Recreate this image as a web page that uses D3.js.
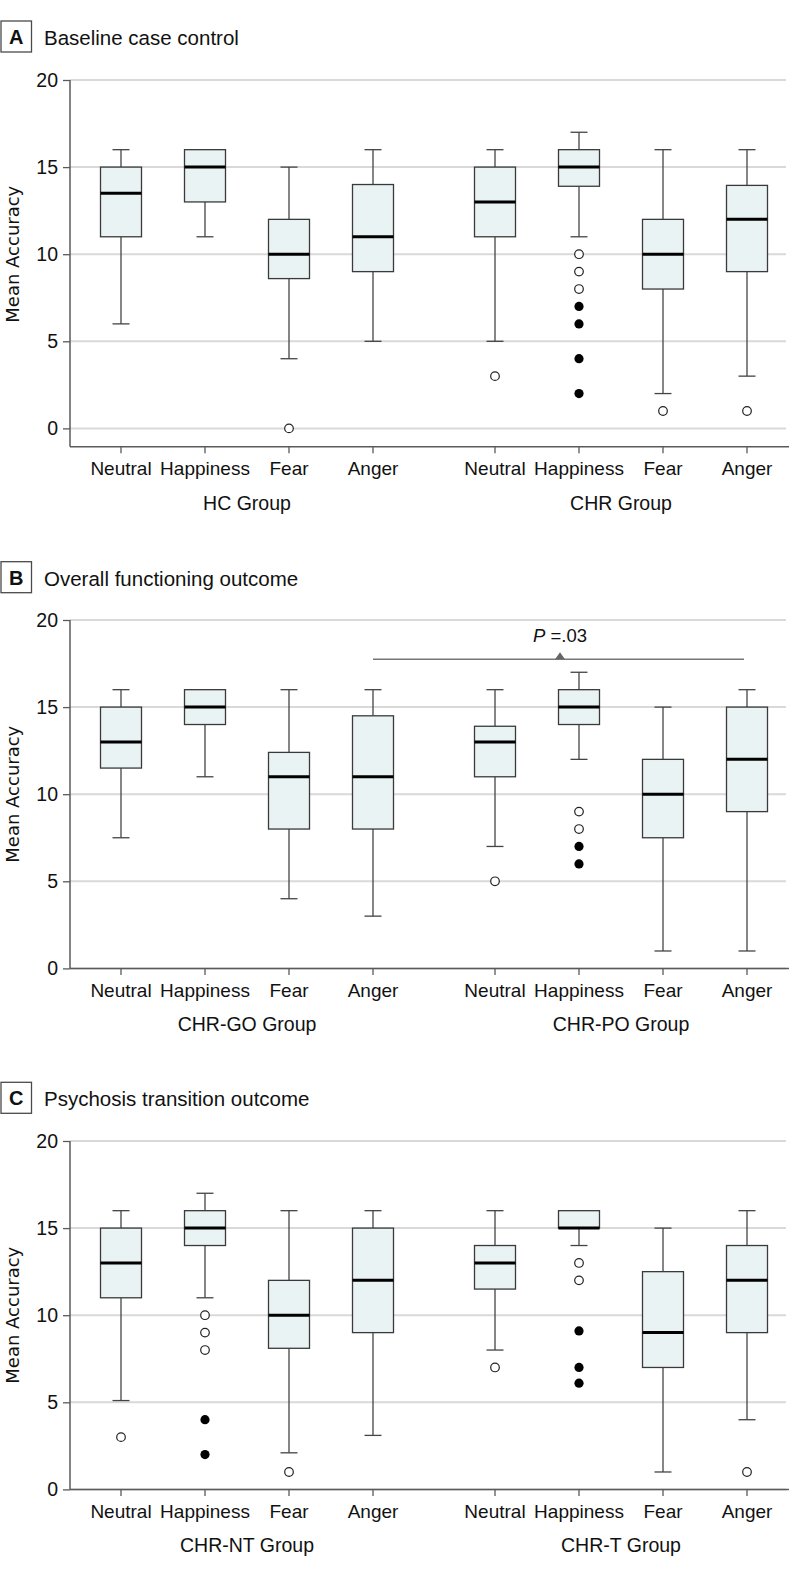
<!DOCTYPE html>
<html>
<head>
<meta charset="utf-8">
<script src="https://cdn.jsdelivr.net/npm/d3@7"></script>
<style>
  html, body { margin: 0; padding: 0; background: #fff; }
  svg { display: block; }
</style>
</head>
<body>
<svg id="chart" width="794" height="1574"></svg>
<script>
// ---------------- DATA ----------------
const emotions = ["Neutral", "Happiness", "Fear", "Anger"];

// Panel A: Baseline case control
const groupsA = ["HC Group", "CHR Group"];
const lowA    = [6, 11, 4, 5,   5, 11, 2, 3];
const q1A     = [11, 13, 8.6, 9,   11, 13.9, 8, 9];
const medA    = [13.5, 15, 10, 11,   13, 15, 10, 12];
const q3A     = [15, 16, 12, 14,   15, 16, 12, 13.95];
const highA   = [16, 16, 15, 16,   16, 17, 16, 16];
const openA   = [[], [], [0], [],   [3], [10, 9, 8], [1], [1]];
const filledA = [[], [], [], [],   [], [7, 6, 4, 2], [], []];

// Panel B: Overall functioning outcome
const groupsB = ["CHR-GO Group", "CHR-PO Group"];
const lowB    = [7.5, 11, 4, 3,   7, 12, 1, 1];
const q1B     = [11.5, 14, 8, 8,   11, 14, 7.5, 9];
const medB    = [13, 15, 11, 11,   13, 15, 10, 12];
const q3B     = [15, 16, 12.4, 14.5,   13.9, 16, 12, 15];
const highB   = [16, 16, 16, 16,   16, 17, 15, 16];
const openB   = [[], [], [], [],   [5], [9, 8], [], []];
const filledB = [[], [], [], [],   [], [7, 6], [], []];
const pLabelB = "=.03";
const pLevelB = 17.75;

// Panel C: Psychosis transition outcome
const groupsC = ["CHR-NT Group", "CHR-T Group"];
const lowC    = [5.1, 11, 2.1, 3.1,   8, 14, 1, 4];
const q1C     = [11, 14, 8.1, 9,   11.5, 15, 7, 9];
const medC    = [13, 15, 10, 12,   13, 15, 9, 12];
const q3C     = [15, 16, 12, 15,   14, 16, 12.5, 14];
const highC   = [16, 17, 16, 16,   16, 16, 15, 16];
const openC   = [[3], [10, 9, 8], [1], [],   [7], [13, 12], [], [1]];
const filledC = [[], [4, 2], [], [],   [], [9.1, 7, 6.1], [], []];

const yTicks = [0, 5, 10, 15, 20];
const titles = ["Baseline case control", "Overall functioning outcome", "Psychosis transition outcome"];
const letters = ["A", "B", "C"];

// ---------------- LAYOUT ----------------
const svg = d3.select("#chart");
const plotLeft = 70, plotRight = 786;
const unit = 17.42;
const labelFont = "'Liberation Sans', Arial, sans-serif";

const panels = [
  { top: 21,    y20: 80,   yMin: -1.06, groups: groupsA, low: lowA, q1: q1A, med: medA, q3: q3A, high: highA, open: openA, filled: filledA },
  { top: 561.7, y20: 620,  yMin: 0,     groups: groupsB, low: lowB, q1: q1B, med: medB, q3: q3B, high: highB, open: openB, filled: filledB, pLabel: pLabelB, pLevel: pLevelB },
  { top: 1082.3,y20: 1141, yMin: 0,     groups: groupsC, low: lowC, q1: q1C, med: medC, q3: q3C, high: highC, open: openC, filled: filledC }
];

const boxW = 41, capW = 17;

panels.forEach((p, pi) => {
  const g = svg.append("g");
  const y = d3.scaleLinear().domain([p.yMin, 20]).range([p.y20 + (20 - p.yMin) * unit, p.y20]);
  const axisY = y(p.yMin);

  const xGroup = d3.scaleBand().domain(p.groups).range([79, 789]).paddingInner(0.1016).paddingOuter(0);
  const xInner = d3.scalePoint().domain(emotions).range([0, xGroup.bandwidth()]).padding(0.5);
  const items = [];
  p.groups.forEach((grp, gi) => {
    emotions.forEach((em, ei) => {
      const k = gi * 4 + ei;
      items.push({ cx: xGroup(grp) + xInner(em), em, grp,
        low: p.low[k], q1: p.q1[k], med: p.med[k], q3: p.q3[k], high: p.high[k],
        open: p.open[k], filled: p.filled[k] });
    });
  });

  // Title
  g.append("rect").attr("x", 1).attr("y", p.top).attr("width", 30.5).attr("height", 31)
    .attr("fill", "#fff").attr("stroke", "#4a4a4a").attr("stroke-width", 1.3);
  g.append("text").attr("x", 16.3).attr("y", p.top + 23).attr("text-anchor", "middle")
    .attr("font-family", labelFont).attr("font-weight", "bold").attr("font-size", 20)
    .attr("fill", "#111").text(letters[pi]);
  g.append("text").attr("x", 44).attr("y", p.top + 24)
    .attr("font-family", labelFont).attr("font-size", 20.5).attr("fill", "#111").text(titles[pi]);

  // Grid lines
  g.selectAll(".grid").data(yTicks).join("line")
    .attr("x1", plotLeft).attr("x2", plotRight)
    .attr("y1", d => y(d)).attr("y2", d => y(d))
    .attr("stroke", "#d9d9d9").attr("stroke-width", 2);

  // Y axis
  const yAxis = d3.axisLeft(y).tickValues(yTicks).tickSize(7).tickPadding(5).tickFormat(d3.format("d"));
  const ya = g.append("g").attr("transform", `translate(${plotLeft},0)`).call(yAxis);
  ya.select(".domain").attr("d", `M0,${y(20)}V${axisY}`).attr("stroke", "#5a5a5a").attr("stroke-width", 1.5);
  ya.selectAll(".tick line").attr("stroke", "#5a5a5a").attr("stroke-width", 1.3);
  ya.selectAll(".tick text").attr("font-family", labelFont).attr("font-size", 19.5).attr("fill", "#111");

  // X axis line
  g.append("line").attr("x1", plotLeft).attr("x2", 789).attr("y1", axisY).attr("y2", axisY)
    .attr("stroke", "#5a5a5a").attr("stroke-width", 1.5);
  // X ticks and labels
  const xt = g.selectAll(".xt").data(items).join("g").attr("transform", d => `translate(${d.cx},${axisY})`);
  xt.append("line").attr("y1", 0).attr("y2", 6.5).attr("stroke", "#5a5a5a").attr("stroke-width", 1.3);
  xt.append("text").attr("y", 28.5).attr("text-anchor", "middle")
    .attr("font-family", labelFont).attr("font-size", 19).attr("fill", "#111").text(d => d.em);
  // Group labels
  g.selectAll(".gl").data(p.groups).join("text")
    .attr("x", d => xGroup(d) + xGroup.bandwidth() / 2).attr("y", axisY + 63)
    .attr("text-anchor", "middle").attr("font-family", labelFont).attr("font-size", 19.5)
    .attr("fill", "#111").text(d => d);

  // Y label (centred between 0 and 20)
  const yMid = (y(20) + y(0)) / 2;
  g.append("text").attr("transform", `translate(19,${yMid}) rotate(-90)`)
    .attr("text-anchor", "middle").attr("font-family", "'DejaVu Sans', Verdana, sans-serif")
    .attr("font-size", 18).attr("fill", "#111").text("Mean Accuracy");

  // Boxes
  const bx = g.selectAll(".box").data(items).join("g");
  bx.append("line").attr("x1", d => d.cx).attr("x2", d => d.cx)
    .attr("y1", d => y(d.q3)).attr("y2", d => y(d.high)).attr("stroke", "#444").attr("stroke-width", 1.3);
  bx.append("line").attr("x1", d => d.cx).attr("x2", d => d.cx)
    .attr("y1", d => y(d.q1)).attr("y2", d => y(d.low)).attr("stroke", "#444").attr("stroke-width", 1.3);
  bx.filter(d => d.high > d.q3).append("line").attr("x1", d => d.cx - capW / 2).attr("x2", d => d.cx + capW / 2)
    .attr("y1", d => y(d.high)).attr("y2", d => y(d.high)).attr("stroke", "#444").attr("stroke-width", 1.3);
  bx.filter(d => d.low < d.q1).append("line").attr("x1", d => d.cx - capW / 2).attr("x2", d => d.cx + capW / 2)
    .attr("y1", d => y(d.low)).attr("y2", d => y(d.low)).attr("stroke", "#444").attr("stroke-width", 1.3);
  bx.append("rect").attr("x", d => d.cx - boxW / 2).attr("width", boxW)
    .attr("y", d => y(d.q3)).attr("height", d => y(d.q1) - y(d.q3))
    .attr("fill", "#e9f3f4").attr("stroke", "#3a3a3a").attr("stroke-width", 1.3);
  bx.append("line").attr("x1", d => d.cx - boxW / 2).attr("x2", d => d.cx + boxW / 2)
    .attr("y1", d => y(d.med)).attr("y2", d => y(d.med)).attr("stroke", "#000").attr("stroke-width", 3);

  // Outliers
  bx.each(function(d) {
    const s = d3.select(this);
    s.selectAll(".o").data(d.open).join("circle").attr("cx", d.cx).attr("cy", v => y(v)).attr("r", 4.3)
      .attr("fill", "#fff").attr("stroke", "#222").attr("stroke-width", 1.2);
    s.selectAll(".f").data(d.filled).join("circle").attr("cx", d.cx).attr("cy", v => y(v)).attr("r", 4.6)
      .attr("fill", "#000");
  });

  // P-value annotation
  if (p.pLabel) {
    const xa = items[3].cx, xb = items[7].cx;
    const ly = y(p.pLevel);
    g.append("line").attr("x1", xa).attr("x2", xb - 3).attr("y1", ly).attr("y2", ly)
      .attr("stroke", "#777").attr("stroke-width", 1.4);
    const mx = (xa + xb) / 2;
    g.append("path").attr("d", `M${mx - 5},${ly}L${mx + 5},${ly}L${mx},${ly - 7}Z`).attr("fill", "#666");
    const t = g.append("text").attr("x", mx).attr("y", ly - 17).attr("text-anchor", "middle")
      .attr("font-family", labelFont).attr("font-size", 18.5).attr("fill", "#111");
    t.append("tspan").attr("font-style", "italic").text("P");
    t.append("tspan").text(" " + p.pLabel);
  }
});
</script>
</body>
</html>
